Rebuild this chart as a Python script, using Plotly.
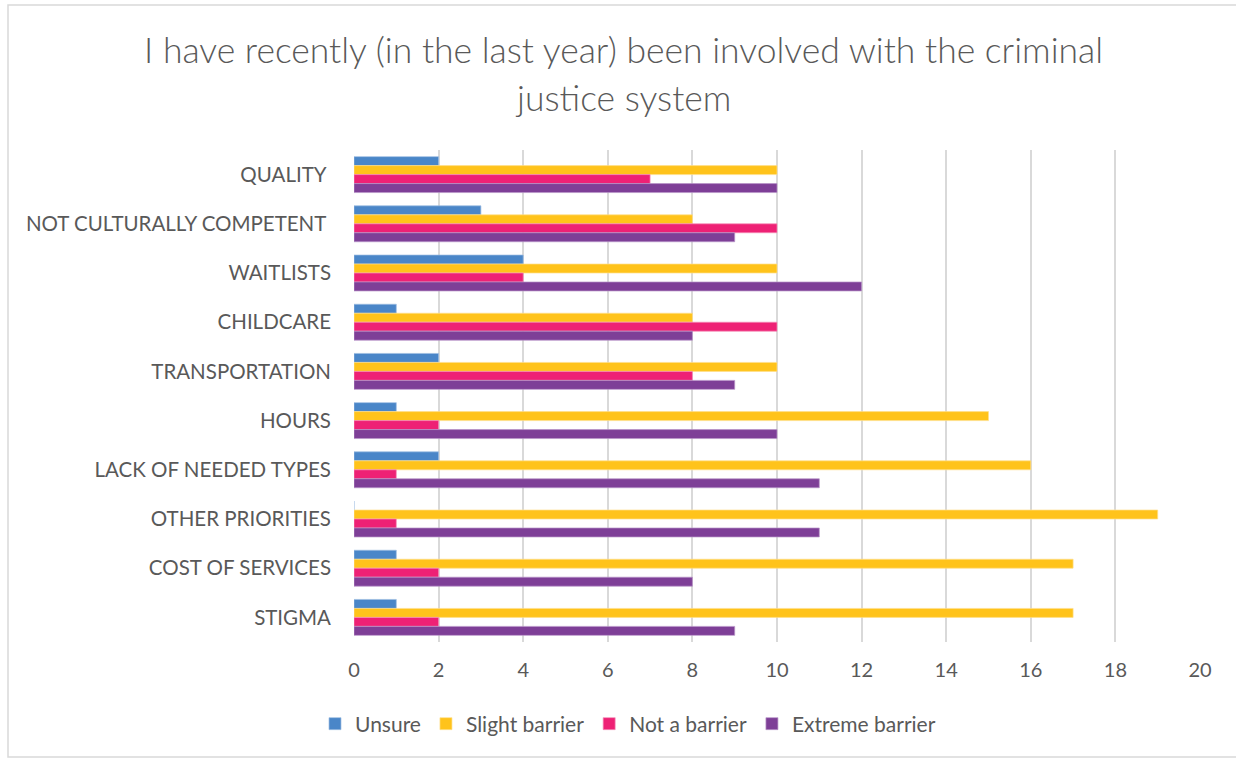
import plotly.graph_objects as go

categories = ["QUALITY ", "NOT CULTURALLY COMPETENT ", "WAITLISTS", "CHILDCARE", "TRANSPORTATION",
              "HOURS", "LACK OF NEEDED TYPES", "OTHER PRIORITIES", "COST OF SERVICES", "STIGMA"]
unsure = [2, 3, 4, 1, 2, 1, 2, 0, 1, 1]
slight = [10, 8, 10, 8, 10, 15, 16, 19, 17, 17]
not_barrier = [7, 10, 4, 10, 8, 2, 1, 1, 2, 2]
extreme = [10, 9, 12, 8, 9, 10, 11, 11, 8, 9]
x_ticks = list(range(0, 21, 2))

series = [
    ("Unsure", unsure, "#4A86C8", "#9dbde3"),
    ("Slight barrier", slight, "#FFC31B", "#ffe08c"),
    ("Not a barrier", not_barrier, "#EE2175", "#f58fb9"),
    ("Extreme barrier", extreme, "#7E3F97", "#b995c9"),
]

FONT = "Lato"
GREY = "#595959"

fig = go.Figure()
for name, vals, col, edge in series:
    fig.add_trace(go.Bar(
        y=categories, x=vals, name=name, orientation="h",
        marker=dict(color=col, line=dict(color=edge, width=0.7)),
    ))

L, R, T, B = 354, 36, 150, 120
W, H = 1236, 762
pw, ph = W - L - R, H - T - B

def px_x(p):
    return (p - L) / pw

def px_y(p):
    return (H - B - p) / ph

fig.update_layout(
    width=W, height=H,
    margin=dict(l=L, r=R, t=T, b=B),
    paper_bgcolor="white", plot_bgcolor="white",
    barmode="group", bargap=0.27, bargroupgap=0,
    font=dict(family=FONT, color=GREY, size=18),
    showlegend=True,
    legend=dict(orientation="h", x=px_x(628), xanchor="center", y=px_y(724), yanchor="middle",
                font=dict(size=21, color=GREY), itemwidth=30, traceorder="normal"),
    xaxis=dict(range=[0, 20], tickvals=x_ticks, showgrid=True, gridcolor="#d9d9d9", gridwidth=1.5,
               zeroline=False, showline=False, ticks="", tickfont=dict(size=20, color=GREY),
               ticklabelstandoff=14, fixedrange=True),
    yaxis=dict(categoryorder="array", categoryarray=categories, autorange="reversed",
               showline=False, ticks="", tickfont=dict(size=20.5, color=GREY),
               ticklabelstandoff=22, showgrid=False, zeroline=False, fixedrange=True),
    annotations=[
        dict(text="I have recently (in the last year) been involved with the criminal", x=px_x(623), y=px_y(50),
             xref="paper", yref="paper", showarrow=False, xanchor="center", yanchor="middle",
             font=dict(size=35.5, color=GREY, family=FONT, weight=300)),
        dict(text="justice system", x=px_x(623), y=px_y(97),
             xref="paper", yref="paper", showarrow=False, xanchor="center", yanchor="middle",
             font=dict(size=35.5, color=GREY, family=FONT, weight=300)),
    ],
    shapes=[
        dict(type="rect", xref="paper", yref="paper", x0=px_x(8), x1=px_x(1240), y0=px_y(757), y1=px_y(5),
             line=dict(color="#d9d9d9", width=1.5), fillcolor="rgba(0,0,0,0)", layer="below"),
    ],
)

fig.write_html("out.html")
